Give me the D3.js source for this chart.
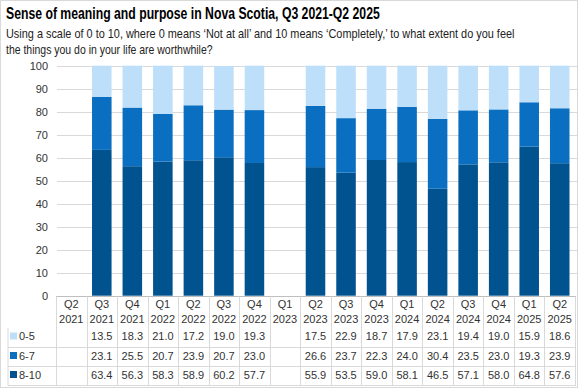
<!DOCTYPE html>
<html><head><meta charset="utf-8">
<script src="https://cdn.jsdelivr.net/npm/d3@7"></script>
<style>body{margin:0;background:#fff;}svg{display:block;}</style>
</head><body>
<svg id="c" width="578" height="388"></svg>
<script>
const categories = ["Q2 2021","Q3 2021","Q4 2021","Q1 2022","Q2 2022","Q3 2022","Q4 2022","Q1 2023","Q2 2023","Q3 2023","Q4 2023","Q1 2024","Q2 2024","Q3 2024","Q4 2024","Q1 2025","Q2 2025"];
const s0_5  = [null,13.5,18.3,21.0,17.2,19.0,19.3,null,17.5,22.9,18.7,17.9,23.1,19.4,19.0,15.9,18.6];
const s6_7  = [null,23.1,25.5,20.7,23.9,20.7,23.0,null,26.6,23.7,22.3,24.0,30.4,23.5,23.0,19.3,23.9];
const s8_10 = [null,63.4,56.3,58.3,58.9,60.2,57.7,null,55.9,53.5,59.0,58.1,46.5,57.1,58.0,64.8,57.6];
const seriesNames = ["0-5","6-7","8-10"];
const seriesColors = ["#BDDFF9","#0A6FC0","#00538F"];
const yTicks = [0,10,20,30,40,50,60,70,80,90,100];

const svg = d3.select("#c");
const W = 578, H = 388;
const font = "'Liberation Sans', Arial, sans-serif";
const tfont = "'Liberation Sans', Arial, sans-serif";
svg.append("rect").attr("x",0.5).attr("y",0.5).attr("width",W-1).attr("height",H-1).attr("fill","#fff").attr("stroke","#d9d9d9");

function fitText(str, px, py, size, weight, width, color){
  const t = svg.append("text").attr("x",0).attr("y",0).text(str)
    .attr("font-family",tfont).attr("font-weight",weight).attr("font-size",size).attr("fill",color);
  const w = t.node().getComputedTextLength();
  t.attr("transform",`translate(${px},${py}) scale(${width/w},1)`);
}
fitText("Sense of meaning and purpose in Nova Scotia, Q3 2021-Q2 2025",6,19,16,"bold",374,"#000");
fitText("Using a scale of 0 to 10, where 0 means \u2018Not at all\u2019 and 10 means \u2018Completely,\u2019 to what extent do you feel",6,38,12.5,"normal",509,"#222");
fitText("the things you do in your life are worthwhile?",6,54,12.5,"normal",207,"#222");

const x0 = 56, x1 = 575, yTop = 65.7, yBot = 295.7;
const x = d3.scaleBand().domain(categories).range([x0,x1]).paddingInner(0.36).paddingOuter(0.18);
const xb = d3.scaleBand().domain(categories).range([x0,x1]).padding(0);
const y = d3.scaleLinear().domain([0,100]).range([yBot,yTop]);

// gridlines
svg.append("g").selectAll("line").data(yTicks.filter(d=>d>0)).join("line")
  .attr("x1",x0+1).attr("x2",x1+2).attr("y1",d=>Math.round(y(d))+0.5).attr("y2",d=>Math.round(y(d))+0.5)
  .attr("stroke","#d9d9d9").attr("stroke-width",1);

// y axis labels
const yAxis = d3.axisLeft(y).tickValues(yTicks).tickSize(0).tickPadding(0);
const ga = svg.append("g").attr("transform",`translate(48,0)`).call(yAxis);
ga.select(".domain").remove();
ga.selectAll("text").attr("font-family",font).attr("font-size",11).attr("fill","#333");

// stacked bars
const rows = categories.map((c,i)=>({cat:c, "0-5":s0_5[i], "6-7":s6_7[i], "8-10":s8_10[i]}));
const stack = d3.stack().keys(["8-10","6-7","0-5"]).value((d,k)=>d[k]||0);
const stacked = stack(rows);
const colorOf = {"0-5":seriesColors[0],"6-7":seriesColors[1],"8-10":seriesColors[2]};
svg.append("g").selectAll("g").data(stacked).join("g").attr("fill",d=>colorOf[d.key])
  .selectAll("rect").data(d=>d.filter(p=>p.data[d.key]!=null)).join("rect")
  .attr("x",d=>x(d.data.cat)).attr("width",x.bandwidth())
  .attr("y",d=>y(Math.min(d[1],100))).attr("height",d=>y(d[0])-y(Math.min(d[1],100)));

// x axis line
svg.append("line").attr("x1",x0).attr("x2",x1+1).attr("y1",296.5).attr("y2",296.5).attr("stroke","#bfbfbf");

// data table
const tTop = 296.5, rowLines = [347.5,366.5,385.5];
const tg = svg.append("g");
categories.forEach(c=>{
  const xl = xb(c);
  tg.append("line").attr("x1",Math.round(xl)+0.5).attr("x2",Math.round(xl)+0.5).attr("y1",tTop).attr("y2",385.5).attr("stroke","#d9d9d9");
});
tg.append("line").attr("x1",x1+0.5).attr("x2",x1+0.5).attr("y1",tTop).attr("y2",385.5).attr("stroke","#d9d9d9");
tg.append("line").attr("x1",8).attr("x2",8).attr("y1",328).attr("y2",385.5).attr("stroke","#d9d9d9");
rowLines.forEach(yy=>tg.append("line").attr("x1",8).attr("x2",x1+1).attr("y1",yy).attr("y2",yy).attr("stroke","#d9d9d9"));

categories.forEach(c=>{
  const cx = xb(c)+xb.bandwidth()/2;
  const [q,yr] = c.split(" ");
  tg.append("text").attr("x",cx).attr("y",308).attr("text-anchor","middle").text(q)
    .attr("font-family",font).attr("font-size",11).attr("fill","#333");
  tg.append("text").attr("x",cx).attr("y",323).attr("text-anchor","middle").text(yr)
    .attr("font-family",font).attr("font-size",11).attr("fill","#333");
});
const seriesVals = [s0_5,s6_7,s8_10];
const rowY = [340,359.5,378.5];
seriesNames.forEach((n,i)=>{
  tg.append("rect").attr("x",10).attr("y",rowY[i]-7.5).attr("width",7).attr("height",7).attr("fill",seriesColors[i]);
  tg.append("text").attr("x",19).attr("y",rowY[i]).text(n).attr("font-family",font).attr("font-size",11).attr("fill","#333");
  categories.forEach((c,j)=>{
    const v = seriesVals[i][j];
    if(v==null) return;
    tg.append("text").attr("x",xb(c)+xb.bandwidth()/2).attr("y",rowY[i]).attr("text-anchor","middle")
      .text(v.toFixed(1)).attr("font-family",font).attr("font-size",11).attr("fill","#333");
  });
});
</script>
</body></html>
